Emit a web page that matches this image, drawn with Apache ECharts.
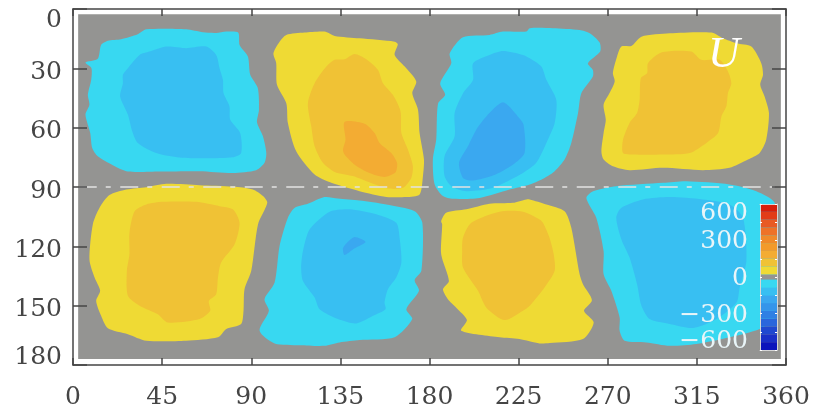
<!DOCTYPE html>
<html>
<head>
<meta charset="utf-8">
<style>html,body{margin:0;padding:0;background:#fff}#c{width:814px;height:410px;filter:blur(0.5px)}</style>
<script src="https://cdn.jsdelivr.net/npm/echarts@6/dist/echarts.min.js"></script>
</head>
<body>
<div id="c"></div>
<script>
// Axis ticks
const lonTicks = [0, 45, 90, 135, 180, 225, 270, 315, 360];
const latTicks = [0, 30, 60, 90, 120, 150, 180];
const panelExtent = [[2.6, 2.7], [357.4, 2.7], [357.4, 177], [2.6, 177]];
const equatorLine = [[2.9, 90], [354.5, 90]];

// Contour outlines, [longitude, latitude]; cell A-H left to right, top row then bottom row
const A1 = [[6.3,27.1],[12.5,25.2],[14.2,18.2],[17.6,16.1],[24.3,15.3],[32.7,12.8],[37,10.3],[57.2,10.3],[65.6,11.8],[72.3,12.1],[77.4,11.4],[83.4,11.9],[84.1,18.2],[88.3,24],[89.5,33.3],[93.3,40],[93.9,50.9],[92.9,57.3],[95.9,64.4],[97.6,72.8],[96.7,77.8],[92.5,81.5],[80.7,82.9],[63.9,82],[43.7,82.2],[27.7,82.2],[20.1,79],[12.5,74.5],[9.7,70.3],[8.7,62.7],[6.3,53.4],[8.3,48.4],[7.5,43.4],[9.2,35.8],[9.3,29.9]];
const A2 = [[25.2,33.3],[27.7,29.9],[33.6,23.2],[38.6,21.5],[47.1,19],[57.2,19.8],[67.3,19],[72.3,23.2],[74,29.9],[75.7,35.8],[76,42.5],[79,49.2],[79.4,56],[84.4,62.7],[84.9,72.8],[80.7,75],[67.3,75.5],[53.8,75.1],[42,72.8],[32.7,67.7],[29.9,61.8],[27.7,53.4],[23.8,44.2],[25.2,37.5]];
const B1 = [[101.2,22.4],[104.3,16.5],[107.7,13.1],[116.9,11.9],[127,11.4],[132.1,13.6],[144.7,14.8],[162.4,16.5],[164,17.8],[162.4,23.2],[167.5,29.1],[173.3,36.6],[171.3,42.5],[174.2,50.9],[175,62.7],[177.2,76.1],[176.7,84.5],[175,93.8],[168.3,95.1],[158.2,95],[144.7,92.1],[130.4,87.9],[122,83.7],[112.7,71.9],[108.5,57.6],[107.7,47.6],[103,38.3],[102.6,27.4]];
const B2 = [[118.6,47.6],[122,37.5],[127.9,29.1],[132.1,25.7],[137.1,25.4],[142.2,22.7],[148.1,25.4],[154,30.8],[156.5,37.5],[161.5,43.4],[165.4,51.8],[165.8,62.7],[169.1,71.1],[171.6,79.5],[170.8,85.4],[166.6,90.4],[159,90.8],[150.2,87.9],[141.3,84.5],[132.1,82.4],[126.2,77.8],[122,69.4],[120.3,59.3]];
const B3 = [[137.1,57.1],[147.2,58],[152.3,62.7],[154.8,67.7],[160.7,72.8],[163.6,77.8],[162.9,82.5],[157.3,84.9],[149.7,82.9],[142.2,78.7],[137.1,73.6],[136.3,71.1],[137.6,66.1]];
const C1 = [[196.9,14.3],[190.2,22.4],[191,27.4],[185.4,37.5],[187.9,43.4],[184.3,47.9],[183.4,66],[181.7,76.1],[182.6,88.7],[186.8,94.6],[191.8,96],[205.3,95.5],[220.4,91.3],[230.6,88.7],[238.1,85.4],[243.2,82],[248.2,76.1],[251.6,67.7],[255,52.6],[256.7,42.5],[262.5,34.1],[262.5,30.8],[260,27.4],[266.2,21.5],[265.9,17],[260.9,12.3],[255.8,10.6],[242.3,9.7],[230.6,9.7],[228.9,11.4],[217.1,11.4],[210.3,13.1]];
const C2 = [[202,27.4],[210.3,23.2],[217.1,21.2],[227.2,23.2],[230.6,24.9],[236.5,29.1],[239,35.8],[244,45.9],[243.2,57.6],[239,67.7],[233.9,77.8],[227.2,82.9],[212,90.4],[198.6,92.1],[191,89.6],[187.6,84.5],[187.6,74.5],[192.7,64.4],[192.7,52.6],[197,42.5],[202,35.8]];
const C3 = [[217.1,47.2],[224.6,54.3],[227.5,58.5],[228,72.8],[222.1,78.7],[212,84.2],[201.9,86.7],[196.9,85.4],[194.9,77.8],[199.4,69.4],[203.6,61],[208.7,54.3]];
const D1 = [[276.9,19],[281.9,18.7],[287,14],[301.3,12.3],[322.3,11.9],[328.2,14.8],[334.9,17.3],[342.5,19],[347.5,27.4],[348.4,33.3],[347,38.3],[349.2,44.2],[351.4,52.6],[350,66.1],[346.7,72.8],[340.8,76.1],[331.5,80.3],[318.1,81.5],[297.9,80.3],[281,81.5],[272.6,79.5],[267.9,76.1],[266.8,72],[267.9,62.7],[269,56],[267.9,48.4],[270.9,42.5],[273.5,36.6],[272.6,32.4],[274.7,24]];
const D2 = [[290.3,27.4],[297,22],[312.2,21.5],[317.2,25.7],[326.5,25.7],[330.7,31.6],[332.4,37.5],[330.7,42.5],[329.9,49.2],[327.4,54.3],[325.7,62.7],[319.8,67.7],[311.4,72.8],[297.9,73.6],[282.8,73.6],[277.7,72.8],[277.7,66.1],[281,57.6],[284.8,52.6],[286.1,45.9],[286.7,35],[289.9,32.4]];
const E1 = [[13.4,100.5],[18.4,94.1],[26.9,91.3],[37,90.1],[47.1,88.4],[63.9,89.1],[80.7,89.8],[90.8,91.3],[95.9,94.6],[98.1,98],[93.4,108.9],[90,132.4],[86.6,141.7],[86.1,152.6],[84.9,159.3],[77.4,161.8],[73.2,166],[57.2,167.7],[37,167.7],[27.7,164.4],[17.6,161.4],[14.2,155.1],[11.7,147.6],[13.7,142.5],[10.9,135.8],[8.3,126.6],[10,108.9]];
const E2 = [[28.5,113.1],[31.1,102.2],[37,98.8],[45.4,97.5],[62.2,97.5],[74,99.7],[80.7,101.3],[84.1,108.1],[81.6,119],[74.8,128.2],[73.2,135.8],[72.3,144.2],[68.6,147.6],[69.3,152.6],[63.9,156.8],[47.9,158.5],[42.8,154.3],[33.6,150],[27.7,145],[27.2,132.4],[28.5,124]];
const F1 = [[127,95.1],[133.7,95.8],[144.7,96.8],[158.2,98.8],[172.5,102.2],[176.4,108.1],[175.9,132.4],[172.5,137.1],[174.7,142.5],[168.3,151.8],[171.3,156.8],[162.4,166],[144.7,167.4],[134.6,168.6],[127,170.3],[114.4,170],[101.8,169.1],[94.2,162.7],[98.9,152.6],[96.7,146.7],[101.8,138.3],[104.3,119.8],[108.5,105.5],[112,100.5],[118.6,98.5]];
const F2 = [[116.1,122.4],[119.5,111.4],[129.6,102.5],[139.6,101.3],[153.1,103.8],[163.2,108.1],[164.9,115.6],[165.8,128.2],[163.2,135.8],[159,141.7],[157.3,148.4],[157.8,151.8],[151.5,155.1],[143,159],[133.8,156.8],[124.5,151.8],[122,145.9],[116.1,137.5],[115.2,130.7]];
const F3 = [[136.3,121],[138.3,118.2],[142.2,115.3],[147.7,117.8],[142.2,121],[137.1,124.4]];
const G1 = [[185.9,107.2],[188.4,103],[198.6,101.3],[210.3,98.5],[222.1,98],[228.9,96.3],[230.6,96.3],[239,98.8],[248.2,102.2],[251.6,110.6],[255.8,134.1],[257.5,139.2],[262,147.2],[258,152.6],[262.9,158.5],[257.5,166.9],[240.7,168.9],[235.6,169.1],[225.4,166.9],[215.4,166],[196,162.7],[198.9,157.3],[193.5,151],[189.3,146.7],[186.8,141.7],[189.8,137.5],[185.9,124],[186.4,108.9]];
const G2 = [[196.9,115.6],[201.1,108.1],[215.4,102.5],[227.2,102.5],[235.6,106.4],[237.3,108.1],[240.6,115.6],[242.7,124],[243.2,132.4],[238.1,140.8],[230.6,150],[227.2,152.6],[218,157.3],[208.7,151],[204.5,142.5],[196.9,130.7],[196.5,122.4]];
const H1 = [[259.2,95.5],[262.6,92.1],[274.3,89.6],[297.9,87.9],[309.7,87.1],[331.5,88.7],[345,92.1],[354.3,98],[354.8,117.3],[354.3,156],[346.7,161.8],[331.5,166],[314.7,169.4],[301.3,170.3],[289.5,168.6],[278.5,167.7],[276,162.7],[276,156],[271.8,142.5],[267.9,134.1],[267.9,122.4],[264.2,105.5]];
const H2 = [[274.3,105.5],[276.9,100.5],[287.8,96.3],[301.3,95.1],[318.1,96.3],[331.5,98.8],[338.3,105.5],[340,127.4],[336.6,140.8],[335,148.4],[324.9,156.8],[313.1,161.3],[301.3,159.3],[291.2,156.8],[287,150],[284.8,139.2],[281,125.7],[276.9,116.5]];

// Contour fills
const cold1 = '#38d8f1', cold2 = '#38bff2', cold3 = '#3aa8f0';
const warm1 = '#efda34', warm2 = '#f0c235', warm3 = '#f3ac33';
const contourRings = [A1, A2, B1, B2, B3, C1, C2, C3, D1, D2, E1, E2, F1, F2, F3, G1, G2, H1, H2];
const contourFills = [cold1, cold2, warm1, warm2, warm3, cold1, cold2, cold3, warm1, warm2, warm1, warm2, cold1, cold2, cold3, warm1, warm2, cold1, cold2];

// Colour bar
const barEdges = [-700,-625,-550,-475,-400,-325,-250,-175,-100,-25,25,100,175,250,325,400,475,550,625,700];
const barColors = ['#0b14bc','#1a30c8','#2048d0','#2a66dc','#2f80e4','#3595ea','#3aa8f0','#38bff2','#38d8f1','#949492','#efda34','#f0c235','#f3ac33','#f39a2b','#f08a2a','#ee7228','#e85a24','#e23c18','#d81e0a'];
const barLabels = ['600', '300', '0', '\u2212300', '\u2212600'];

const LABEL_FONT = 'DejaVu Serif';
const DARK = '#454545';

const chart = echarts.init(document.getElementById('c'), null, {renderer: 'canvas'});

function polygonSeries(rings, fills, smooth) {
  return {
    type: 'custom', xAxisIndex: 0, yAxisIndex: 0, z: 2, clip: false, silent: true,
    data: rings.map((r, i) => [r[0][0], r[0][1], i]),
    renderItem: (params, api) => {
      const i = api.value(2);
      return {
        type: 'polygon',
        shape: {points: rings[i].map(p => api.coord(p)), smooth: smooth},
        style: {fill: fills[i]}
      };
    }
  };
}

const richBase = {fontFamily: LABEL_FONT, fontSize: 25, color: DARK};
const frameLine = {show: true, onZero: false, lineStyle: {color: DARK, width: 1.5}};
const barLine = {show: true, onZero: false, lineStyle: {color: '#d6d6d6', width: 1}};

chart.setOption({
  animation: false,
  backgroundColor: '#fff',
  grid: [
    {left: 73, top: 9, width: 713, height: 357, containLabel: false},
    {left: 760, top: 204, width: 17, height: 146}
  ],
  xAxis: [
    {type: 'value', gridIndex: 0, position: 'bottom', min: 0, max: 360, interval: 45, z: 5,
     splitLine: {show: false}, axisLine: frameLine,
     axisTick: {show: true, inside: true, length: 7, lineStyle: {color: DARK, width: 1.5}},
     axisLabel: {show: true, margin: 20, fontFamily: LABEL_FONT, fontSize: 25, color: DARK,
       showMinLabel: true, showMaxLabel: true, hideOverlap: false,
       formatter: v => String(lonTicks[lonTicks.indexOf(v)])}},
    {type: 'value', gridIndex: 0, position: 'top', min: 0, max: 360, interval: 45, z: 5,
     splitLine: {show: false}, axisLine: frameLine,
     axisTick: {show: true, inside: true, length: 7, lineStyle: {color: DARK, width: 1.5}},
     axisLabel: {show: false}},
    {type: 'value', gridIndex: 1, position: 'bottom', min: 0, max: 1, z: 7,
     splitLine: {show: false}, axisLine: barLine,
     axisTick: {show: false}, axisLabel: {show: false}},
    {type: 'value', gridIndex: 1, position: 'top', min: 0, max: 1, z: 7,
     splitLine: {show: false}, axisLine: barLine,
     axisTick: {show: false}, axisLabel: {show: false}}
  ],
  yAxis: [
    {type: 'value', gridIndex: 0, position: 'left', inverse: true, min: 0, max: 180, interval: 30, z: 5,
     splitLine: {show: false}, axisLine: frameLine,
     axisTick: {show: true, inside: true, length: 14, lineStyle: {color: DARK, width: 1.5}},
     axisLabel: {show: true, margin: 11, fontFamily: LABEL_FONT, fontSize: 25, color: DARK,
       showMinLabel: true, showMaxLabel: true, hideOverlap: false,
       rich: {
         mid: Object.assign({padding: [8, 0, 0, 0]}, richBase),
         first: Object.assign({padding: [23, 0, 0, 0]}, richBase),
         last: Object.assign({padding: [0, 0, 15, 0]}, richBase)
       },
       formatter: v => {
         const t = String(latTicks[latTicks.indexOf(v)]);
         return v === latTicks[0] ? `{first|${t}}` : v === latTicks[latTicks.length - 1] ? `{last|${t}}` : `{mid|${t}}`;
       }}},
    {type: 'value', gridIndex: 0, position: 'right', inverse: true, min: 0, max: 180, interval: 30, z: 5,
     splitLine: {show: false}, axisLine: frameLine,
     axisTick: {show: true, inside: true, length: 14, lineStyle: {color: DARK, width: 1.5}},
     axisLabel: {show: false}},
    {type: 'value', gridIndex: 1, position: 'left', min: -700, max: 700, interval: 175, z: 7,
     splitLine: {show: false}, axisLine: barLine,
     axisTick: {show: true, inside: true, length: 2, lineStyle: {color: '#fff', width: 1}},
     axisLabel: {show: false}},
    {type: 'value', gridIndex: 1, position: 'right', min: -700, max: 700, interval: 175, z: 7,
     splitLine: {show: false}, axisLine: barLine,
     axisTick: {show: true, inside: true, length: 2, lineStyle: {color: '#fff', width: 1}},
     axisLabel: {show: false}}
  ],
  series: [
    Object.assign(polygonSeries([panelExtent], ['#949492'], 0), {z: 1}),
    polygonSeries(contourRings, contourFills, 0.25),
    {type: 'line', xAxisIndex: 0, yAxisIndex: 0, z: 3, data: equatorLine, symbol: 'none', silent: true,
     lineStyle: {color: '#e2e2e2', width: 1.5, type: [18, 9, 5, 9.5]}},
    {type: 'custom', xAxisIndex: 2, yAxisIndex: 2, z: 6, clip: false, silent: true,
     data: barColors.map((c, i) => [0, barEdges[i], i]),
     renderItem: (params, api) => {
       const i = api.value(2);
       const a = api.coord([0, barEdges[i + 1]]);
       const b = api.coord([1, barEdges[i]]);
       return {type: 'rect', shape: {x: a[0], y: a[1], width: b[0] - a[0], height: b[1] - a[1]},
               style: {fill: barColors[i]}};
     }}
  ],
  graphic: [
    ...barLabels.map((t, i) => ({
      type: 'text', z: 20, silent: true,
      x: 748, y: [213, 241.5, 278, 315, 341.5][i],
      style: {text: t, fontFamily: LABEL_FONT, fontSize: 25, fill: '#e9f5f8', align: 'right', verticalAlign: 'middle'}
    })),
    {type: 'text', z: 20, silent: true, x: 724, y: 55,
     style: {text: 'U', fontFamily: 'Liberation Serif', fontStyle: 'italic', fontSize: 44, fill: '#fff', align: 'center', verticalAlign: 'middle'}}
  ]
});
</script>
</body>
</html>
